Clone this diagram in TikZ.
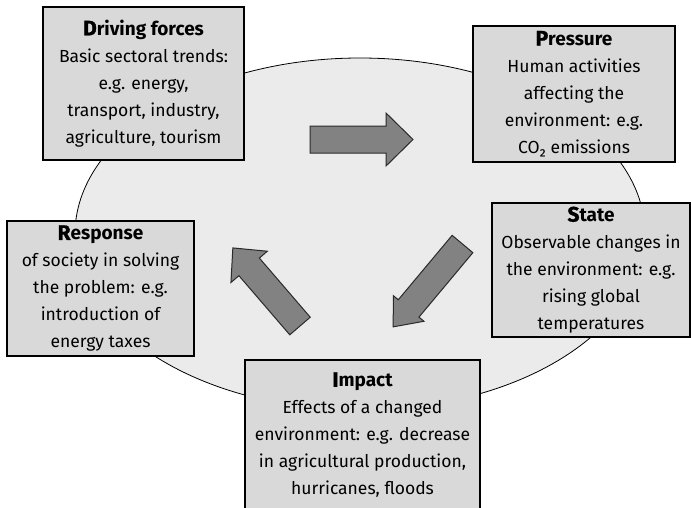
\documentclass[tikz,border=0pt]{standalone}
\usepackage{fontspec}
\setmainfont{Fira Sans}
\definecolor{ellfill}{HTML}{EBEBEB}
\definecolor{boxfill}{HTML}{D9D9D9}
\definecolor{arrfill}{HTML}{828282}
\definecolor{arrline}{HTML}{2A2A2A}
\newcommand\hd[2]{{\fontsize{19}{27}\selectfont\bfseries{\fontsize{21}{27}\selectfont\addfontfeatures{FakeBold=1.2}#1}#2}}
\newcommand\bigarrow[6]{%
  \path[arr, shift={(#1)}, rotate=#2]
    (0,-13.5) -- ({#3-#5},-13.5) -- ({#3-#5},-#4) -- (#3,0) -- ({#3-#5},#4)
    -- ({#3-#5},13.5) -- (0,13.5) -- cycle;}
\begin{document}
\begin{tikzpicture}[x=1pt,y=-1pt,
  txt/.style={font=\fontsize{17.5}{27}\selectfont, align=center},
  infobox/.style={draw=black, line width=1.3pt, fill=boxfill, rectangle, inner sep=0pt, txt},
  arr/.style={fill=arrfill, draw=arrline, line width=1pt, line join=miter}]
\useasboundingbox (0,0) rectangle (691,507);
\clip (0,0) rectangle (691,507);
\path[fill=ellfill, draw=black, line width=0.8pt] (360,234) ellipse [x radius=285pt, y radius=176pt];
\bigarrow{310,139.5}{0}{103}{26.5}{27}{}
\bigarrow{462.5,244}{230.1}{108}{20}{24}{}
\bigarrow{300,326}{130.7}{103}{24}{25}{}
\node[infobox, minimum width=201pt, minimum height=153pt] (drv) at (143.5,83.5)
  {\hd{D}{riving forces}\\Basic sectoral trends:\\e.g. energy,\\transport, industry,\\agriculture, tourism};
\node[infobox, minimum width=202pt, minimum height=136pt] (prs) at (574,94)
  {\hd{P}{ressure}\\Human activities\\affecting the\\environment: e.g.\\CO₂ emissions};
\node[infobox, minimum width=198pt, minimum height=134pt] (sta) at (591,270)
  {\hd{S}{tate}\\Observable changes in\\the environment: e.g.\\rising global\\temperatures};
\node[infobox, minimum width=187pt, minimum height=135pt] (rsp) at (100.5,288.5)
  {\hd{R}{esponse}\\of society in solving\\the problem: e.g.\\introduction of\\energy taxes};
\node[infobox, minimum width=235pt, minimum height=150pt] (imp) at (362.5,435)
  {\hd{I}{mpact}\\Effects of a changed\\environment: e.g. decrease\\in agricultural production,\\hurricanes, floods};
\end{tikzpicture}
\end{document}
